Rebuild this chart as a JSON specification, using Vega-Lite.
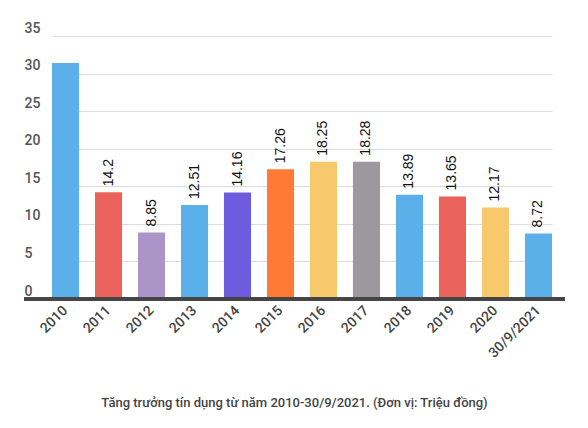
{
  "$schema": "https://vega.github.io/schema/vega-lite/v6.json",
  "width": 541,
  "height": 263,
  "autosize": {"type": "none"},
  "padding": {"left": 24, "top": 36, "right": 23, "bottom": 129},
  "background": "white",
  "title": {
    "text": "Tăng trưởng tín dụng từ năm 2010-30/9/2021. (Đơn vị: Triệu đồng)",
    "orient": "bottom",
    "anchor": "middle",
    "frame": "group",
    "font": "Roboto",
    "fontSize": 13,
    "fontWeight": 500,
    "color": "#444444",
    "offset": 37
  },
  "config": {"view": {"stroke": null}},
  "data": {
    "values": [
      {"year": "2010", "value": 31.4, "label": ""},
      {"year": "2011", "value": 14.2, "label": "14.2"},
      {"year": "2012", "value": 8.85, "label": "8.85"},
      {"year": "2013", "value": 12.51, "label": "12.51"},
      {"year": "2014", "value": 14.16, "label": "14.16"},
      {"year": "2015", "value": 17.26, "label": "17.26"},
      {"year": "2016", "value": 18.25, "label": "18.25"},
      {"year": "2017", "value": 18.28, "label": "18.28"},
      {"year": "2018", "value": 13.89, "label": "13.89"},
      {"year": "2019", "value": 13.65, "label": "13.65"},
      {"year": "2020", "value": 12.17, "label": "12.17"},
      {"year": "30/9/2021", "value": 8.72, "label": "8.72"}
    ]
  },
  "encoding": {
    "x": {
      "field": "year",
      "type": "nominal",
      "sort": null,
      "scale": {"range": [28, 528], "paddingInner": 0.37, "paddingOuter": 0},
      "axis": {
        "title": null,
        "domain": false,
        "ticks": false,
        "tickSize": 0,
        "labelAngle": -45,
        "labelAlign": "right",
        "labelBaseline": "middle",
        "labelPadding": 9,
        "labelFont": "Roboto",
        "labelFontSize": 14,
        "labelFontWeight": 500,
        "labelColor": "#444444"
      }
    },
    "y": {
      "field": "value",
      "type": "quantitative",
      "scale": {"domain": [0, 35], "nice": false},
      "axis": {
        "title": null,
        "values": [0, 5, 10, 15, 20, 25, 30, 35],
        "grid": true,
        "gridColor": "#dddddd",
        "gridWidth": 1,
        "domain": false,
        "ticks": false,
        "tickSize": 0,
        "labelAlign": "left",
        "labelBaseline": "alphabetic",
        "labelPadding": 0,
        "labelOffset": -4,
        "labelFont": "Roboto",
        "labelFontSize": 14,
        "labelFontWeight": 500,
        "labelColor": "#555555"
      }
    }
  },
  "layer": [
    {
      "mark": {"type": "bar"},
      "encoding": {
        "color": {
          "field": "year",
          "type": "nominal",
          "legend": null,
          "scale": {
            "domain": ["2010", "2011", "2012", "2013", "2014", "2015", "2016", "2017", "2018", "2019", "2020", "30/9/2021"],
            "range": ["#5BB0EA", "#E9625B", "#AB95C8", "#5BB0EA", "#6E5BDE", "#FF7A35", "#F8C86C", "#9C999E", "#5BB0EA", "#E9625B", "#F8C86C", "#5BB0EA"]
          }
        }
      }
    },
    {
      "mark": {"type": "text", "angle": 270, "align": "left", "baseline": "middle", "dx": 6, "font": "Liberation Sans", "fontSize": 14, "color": "#111111"},
      "encoding": {"text": {"field": "label"}}
    },
    {
      "mark": {"type": "rule", "color": "#444444", "strokeWidth": 2.5},
      "encoding": {"y": {"datum": 0}, "x": null}
    }
  ]
}
